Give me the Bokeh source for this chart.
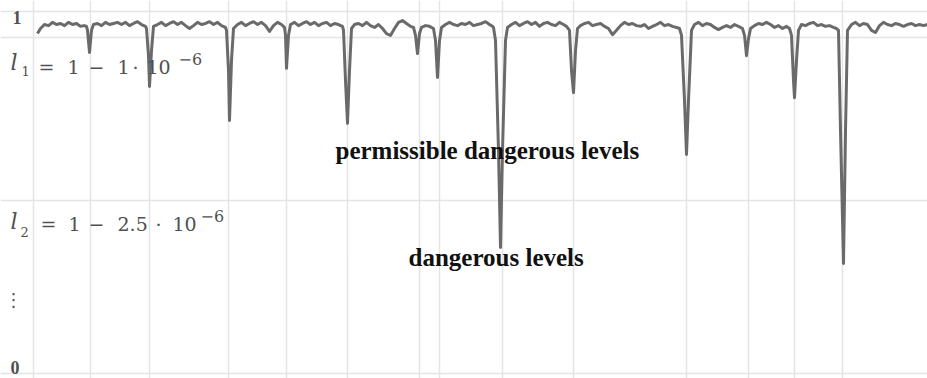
from bokeh.plotting import figure
from bokeh.models import Range1d, FixedTicker, Label
from bokeh.embed import file_html
from bokeh.resources import INLINE

# time index (samples) and normalized signal level
t = [4, 7, 11, 15, 19, 23, 27, 31, 35, 39, 43, 47, 51, 53, 54, 56, 58,
     60, 64, 68, 72, 76, 80, 84, 88, 92, 96, 100, 104, 108, 112, 113, 115, 116, 118, 120,
     124, 128, 132, 136, 140, 144, 148, 152, 156, 160, 164, 168, 172, 176, 180, 184, 188, 192,
     193, 195, 196, 198, 200,
     204, 208, 212, 216, 220, 224, 228, 232, 236, 240, 244, 248, 251, 252, 253, 255,
     257, 261, 265, 269, 273, 277, 281, 285, 289, 293, 297, 301, 305, 309,
     310, 312, 314, 316, 318,
     321, 325, 329, 333, 337, 341, 345, 349, 353, 357, 361, 365, 369, 373, 377, 380,
     382, 384, 386, 388, 392, 396, 400, 402, 404, 406, 408,
     412, 416, 420, 424, 428, 432, 436, 440, 444, 448, 452, 456, 459,
     460, 462, 465, 467, 469, 472, 474,
     478, 482, 486, 490, 494, 498, 502, 506, 510, 514, 518, 522, 526, 530, 533,
     536, 538, 540, 542, 544,
     547, 551, 555, 559, 563, 567, 571, 575, 579, 583, 587, 591, 595, 599, 603, 607, 611,
     615, 619, 623, 627, 631, 635, 639, 643, 646,
     648, 651, 653, 655, 658,
     661, 665, 669, 673, 677, 681, 685, 689, 693, 697, 701, 705, 709,
     711, 713, 715, 717,
     721, 725, 729, 733, 737, 741, 745, 749, 753, 756,
     758, 760, 761, 763, 765,
     768, 772, 776, 780, 784, 788, 792, 796, 800, 803,
     805, 807, 810, 812, 814,
     818, 822, 826, 830, 834, 838, 842, 846, 850, 854, 858, 862, 866, 870, 874, 878,
     882, 886, 890, 894]

level = [0.939, 0.953, 0.964, 0.961, 0.970, 0.964, 0.967, 0.961, 0.970, 0.964, 0.967, 0.959, 0.961, 0.959, 0.948, 0.887, 0.948,
         0.964, 0.967, 0.961, 0.970, 0.964, 0.967, 0.970, 0.964, 0.970, 0.961, 0.967, 0.972, 0.964, 0.959, 0.953, 0.878, 0.793, 0.892, 0.959,
         0.964, 0.970, 0.961, 0.967, 0.972, 0.964, 0.970, 0.961, 0.953, 0.961, 0.970, 0.964, 0.967, 0.972, 0.964, 0.970, 0.961, 0.956,
         0.948, 0.837, 0.699, 0.865, 0.953,
         0.964, 0.970, 0.961, 0.967, 0.972, 0.964, 0.970, 0.961, 0.945, 0.961, 0.970, 0.964, 0.956, 0.934, 0.843, 0.934,
         0.964, 0.970, 0.961, 0.967, 0.972, 0.964, 0.970, 0.961, 0.967, 0.970, 0.961, 0.967, 0.964, 0.959,
         0.948, 0.809, 0.691, 0.837, 0.953,
         0.964, 0.967, 0.961, 0.970, 0.961, 0.956, 0.964, 0.953, 0.939, 0.934, 0.953, 0.970, 0.975, 0.967, 0.959, 0.956,
         0.934, 0.884, 0.939, 0.956, 0.961, 0.959, 0.953, 0.920, 0.818, 0.920, 0.956,
         0.964, 0.970, 0.964, 0.961, 0.967, 0.964, 0.970, 0.961, 0.964, 0.967, 0.972, 0.964, 0.959,
         0.956, 0.920, 0.616, 0.348, 0.616, 0.920, 0.956,
         0.964, 0.970, 0.961, 0.967, 0.972, 0.964, 0.970, 0.959, 0.967, 0.970, 0.964, 0.961, 0.970, 0.964, 0.959,
         0.948, 0.837, 0.776, 0.892, 0.953,
         0.961, 0.967, 0.970, 0.961, 0.964, 0.967, 0.959, 0.953, 0.936, 0.948, 0.961, 0.970, 0.964, 0.967, 0.961, 0.959, 0.964,
         0.953, 0.959, 0.964, 0.970, 0.961, 0.964, 0.959, 0.956, 0.953,
         0.934, 0.754, 0.605, 0.754, 0.948,
         0.964, 0.970, 0.961, 0.967, 0.964, 0.956, 0.950, 0.956, 0.961, 0.956, 0.964, 0.959, 0.953,
         0.934, 0.878, 0.925, 0.953,
         0.961, 0.967, 0.964, 0.970, 0.964, 0.956, 0.961, 0.953, 0.959, 0.953,
         0.934, 0.809, 0.762, 0.865, 0.948,
         0.964, 0.961, 0.967, 0.970, 0.961, 0.964, 0.959, 0.961, 0.956, 0.953,
         0.948, 0.671, 0.304, 0.671, 0.948,
         0.964, 0.970, 0.961, 0.967, 0.964, 0.948, 0.942, 0.961, 0.970, 0.964, 0.961, 0.967, 0.964, 0.959, 0.964, 0.967,
         0.961, 0.964, 0.961, 0.964]

# times of the detected dips (vertical guide lines); 0 = start of record
event_times = [0, 57, 116, 195, 253, 314, 386, 406, 469, 540, 653, 715, 761, 809]

# threshold levels
l1 = 0.928
l2 = 0.478
level_ticks = [0, l2, l1, 1]

p = figure(width=927, height=378, output_backend="svg", toolbar_location=None,
           x_range=Range1d(-33, 894), y_range=Range1d(-0.0138, 1.0304),
           min_border_left=0, min_border_right=0, min_border_top=0, min_border_bottom=0)
p.xaxis.visible = False
p.yaxis.visible = False
p.background_fill_color = "white"
p.border_fill_color = "white"
p.outline_line_color = None

p.xgrid.ticker = FixedTicker(ticks=event_times)
p.ygrid.ticker = FixedTicker(ticks=level_ticks)
p.xgrid.grid_line_color = "#e4e4e4"
p.ygrid.grid_line_color = "#e4e4e4"
p.xgrid.grid_line_width = 1.5
p.ygrid.grid_line_width = 1.5
p.xgrid.bounds = (-0.0138, 1.0)
p.ygrid.bounds = (0, 894)

p.line(t, level, line_color="#6a6a6a", line_width=3, line_join="round")

gray = "#505050"
serif = "DejaVu Serif"

def lab(x, y, text, size, color=gray, font=serif, style="normal", baseline="alphabetic", align="left"):
    p.add_layout(Label(x=x, y=y, text=text, text_font=font, text_font_size=f"{size}px",
                       text_color=color, text_font_style=style, text_baseline=baseline,
                       text_align=align))

# y-side labels
lab(-21, 0.984, "1", 18, font="Liberation Serif", style="bold")

lab(-23, 0.859, "l", 22, style="italic")
lab(-12, 0.837, "1", 13)
for x, s in [(5, "="), (34, "1"), (55, "−"), (84, "1"), (99, "·"), (113, "10")]:
    lab(x, 0.848, s, 19)
lab(145, 0.870, "−6", 16)

lab(-23, 0.420, "l", 22, style="italic")
lab(-13, 0.390, "2", 13)
for x, s in [(7, "="), (35, "1"), (55, "−"), (84, "2.5"), (122, "·"), (139, "10")]:
    lab(x, 0.412, s, 19)
lab(167, 0.434, "−6", 16)

lab(-20, 0.205, "⋮", 18, font="DejaVu Sans", align="center")
lab(-23, -0.002, "0", 18, font="Liberation Serif", style="bold", baseline="bottom")

# zone annotations
lab(302, 0.616, "permissible dangerous levels", 25, color="#111111",
    font="Liberation Serif", style="bold")
lab(375, 0.320, "dangerous levels", 25, color="#111111",
    font="Liberation Serif", style="bold")

open("out.html", "w").write(file_html(p, INLINE))
